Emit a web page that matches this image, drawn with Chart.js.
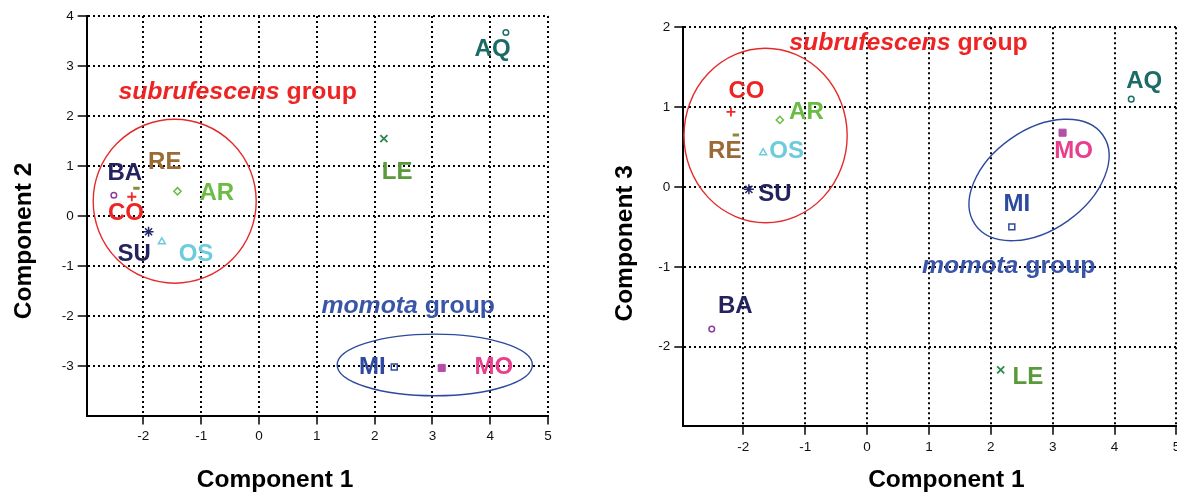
<!DOCTYPE html>
<html><head><meta charset="utf-8">
<script src="https://cdn.jsdelivr.net/npm/chart.js@4.4.1/dist/chart.umd.min.js"></script>
<style>
html,body{margin:0;padding:0;background:#fff;overflow:hidden;width:1177px;height:493px;}
#c1{position:absolute;left:0;top:0;}
#c2{position:absolute;left:600px;top:0;}
</style></head><body>
<canvas id="c1" width="580" height="493"></canvas>
<canvas id="c2" width="600" height="493"></canvas>
<script>
// ---------- data ----------
const codes      = ['BA','RE','CO','AR','SU','OS','LE','AQ','MI','MO'];
const component1 = [-2.51,-2.12,-2.20,-1.41,-1.91,-1.68, 2.16, 4.27, 2.34, 3.16];
const component2 = [ 0.42, 0.56, 0.39, 0.50,-0.31,-0.51, 1.55, 3.67,-3.01,-3.03];
const component3 = [-1.78, 0.65, 0.94, 0.84,-0.03, 0.43,-2.29, 1.10,-0.50, 0.68];
const xTickValues      = [-2,-1,0,1,2,3,4,5];
const yTickValuesLeft  = [-3,-2,-1,0,1,2,3,4];
const yTickValuesRight = [-2,-1,0,1,2];
const groupNames = ['subrufescens','momota'];
const groupWord = ' group';
const xTitle = 'Component 1';
const yTitleLeft = 'Component 2';
const yTitleRight = 'Component 3';

// ---------- styles ----------
const FAMILY = "'Liberation Sans', Arial, sans-serif";
const markerStyle = {
  BA:{shape:'circle',   color:'#8a3d9a', r:2.8, w:1.5},
  RE:{shape:'line',     color:'#8c8a3e', r:3.2, w:3},
  CO:{shape:'cross',    color:'#ee2a2a', r:4.5, w:1.8},
  AR:{shape:'rectRot',  color:'#6cbb44', r:3.6, w:1.5},
  SU:{shape:'star',     color:'#262a6c', r:5,   w:1.5},
  OS:{shape:'triangle', color:'#6ccbdc', r:4,   w:1.5},
  LE:{shape:'crossRot', color:'#2b8a4c', r:5,   w:1.8},
  AQ:{shape:'circle',   color:'#1e6e69', r:2.8, w:1.5},
  MI:{shape:'rect',     color:'#2e4a9e', r:4.2, w:1.5},
  MO:{shape:'rect',     color:'#b44fa6', r:5,   w:1, fill:true}
};
const labelColor = {BA:'#24235f',RE:'#9b6a35',CO:'#ee2424',AR:'#6cbb44',SU:'#24235f',
  OS:'#6ccbdc',LE:'#5b9a3b',AQ:'#1b6b66',MI:'#2e4a9e',MO:'#e83e8c'};
const groupColor = ['#ee2424','#3a55a8'];
const ellipseColor = ['#e42b2b','#2d4a9f'];

// annotation layout (label anchor points in data units, ellipse radii in px)
const layoutLeft = {
  labels:{BA:[-2.32,0.86],RE:[-1.63,1.08],CO:[-2.30,0.06],AR:[-0.73,0.45],SU:[-2.16,-0.76],
          OS:[-1.09,-0.76],LE:[2.39,0.88],AQ:[4.04,3.33],MI:[1.96,-3.01],MO:[4.06,-3.01]},
  groups:[[-0.37,2.47],[2.58,-1.80]],
  ellipses:[{cx:-1.458,cy:0.30,rx:81.5,ry:82,rot:0},{cx:3.04,cy:-2.97,rx:97.6,ry:30.8,rot:0}],
  xTitlePos:[275,480], yTitlePos:[24,241]
};
const layoutRight = {
  labels:{BA:[-2.13,-1.49],RE:[-2.30,0.44],CO:[-1.95,1.20],AR:[-0.98,0.94],SU:[-1.49,-0.09],
          OS:[-1.30,0.44],LE:[2.60,-2.39],AQ:[4.48,1.32],MI:[2.42,-0.22],MO:[3.34,0.44]},
  groups:[[0.67,1.80],[2.29,-0.99]],
  ellipses:[{cx:-1.64,cy:0.645,rx:81.6,ry:87.2,rot:0},{cx:2.78,cy:0.088,rx:78,ry:50,rot:-35.2}],
  xTitlePos:[346.4,480], yTitlePos:[24.8,243.3]
};

function makeDatasets(yValues){
  return codes.map((c,i)=>{
    const s = markerStyle[c];
    return {
      label:c,
      data:[{x:component1[i], y:yValues[i]}],
      pointStyle:s.shape, pointRadius:s.r, pointHoverRadius:s.r,
      borderColor:s.color, pointBorderColor:s.color, pointBorderWidth:s.w,
      backgroundColor:s.fill ? s.color : 'rgba(0,0,0,0)',
      pointBackgroundColor:s.fill ? s.color : 'rgba(0,0,0,0)'
    };
  });
}

function drawParts(ctx, parts, cx, cy, size, color){
  const fonts = parts.map(p => (p.italic?'italic ':'') + 'bold ' + size + 'px ' + FAMILY);
  const widths = parts.map((p,i)=>{ ctx.font = fonts[i]; return ctx.measureText(p.text).width; });
  const total = widths.reduce((a,b)=>a+b,0);
  let xx = cx - total/2;
  ctx.textAlign='left'; ctx.textBaseline='middle'; ctx.fillStyle=color;
  parts.forEach((p,i)=>{ ctx.font=fonts[i]; ctx.fillText(p.text, xx, cy); xx += widths[i]; });
}

function makeOverlay(lay, yTitle){
  return {
    id:'overlay',
    afterDatasetsDraw(chart){
      const ctx = chart.ctx, sx = chart.scales.x, sy = chart.scales.y;
      ctx.save();
      lay.ellipses.forEach((e,i)=>{
        ctx.beginPath();
        ctx.ellipse(sx.getPixelForValue(e.cx), sy.getPixelForValue(e.cy), e.rx, e.ry, e.rot*Math.PI/180, 0, Math.PI*2);
        ctx.strokeStyle = ellipseColor[i]; ctx.lineWidth = 1.4; ctx.stroke();
      });
      ctx.font = 'bold 24px ' + FAMILY;
      ctx.textAlign='center'; ctx.textBaseline='middle';
      codes.forEach(c=>{
        const p = lay.labels[c];
        ctx.fillStyle = labelColor[c];
        ctx.fillText(c, sx.getPixelForValue(p[0]), sy.getPixelForValue(p[1]));
      });
      groupNames.forEach((g,i)=>{
        const p = lay.groups[i];
        drawParts(ctx, [{text:g, italic:true},{text:groupWord}], sx.getPixelForValue(p[0]), sy.getPixelForValue(p[1]), 24.8, groupColor[i]);
      });
      ctx.restore();
    },
    afterDraw(chart){
      const ctx = chart.ctx;
      ctx.save();
      ctx.fillStyle='#000'; ctx.font='bold 24.5px ' + FAMILY;
      ctx.textAlign='center'; ctx.textBaseline='middle';
      ctx.fillText(xTitle, lay.xTitlePos[0], lay.xTitlePos[1]);
      ctx.translate(lay.yTitlePos[0], lay.yTitlePos[1]);
      ctx.rotate(-Math.PI/2);
      ctx.fillText(yTitle, 0, 0);
      ctx.restore();
    }
  };
}

function scaleCfg(min, max, tickValues, size, isX){
  return {
    type:'linear', min:min, max:max,
    afterBuildTicks: a => { a.ticks = tickValues.map(v=>({value:v})); },
    afterFit: a => {
      if (isX) a.height = size; else a.width = size;
      a.paddingLeft = a.paddingRight = a.paddingTop = a.paddingBottom = 0;
    },
    grid:{color:'#000', lineWidth:2, drawTicks:true, tickLength:9, tickColor:'#000', tickWidth:1.5, tickBorderDash:[]},
    border:{display:true, color:'#000', width:2, dash:[2,3]},
    ticks:{color:'#111', font:{family:FAMILY, size:13.5}, padding:4, autoSkip:false, maxRotation:0,
           callback: v => String(v)}
  };
}

function makeChart(id, yValues, lay, yTitle, xr, yr, yTicks, yAxisW, xAxisH, pad){
  return new Chart(document.getElementById(id), {
    type:'scatter',
    data:{datasets:makeDatasets(yValues)},
    options:{
      responsive:false, animation:false, devicePixelRatio:1,
      layout:{padding:pad},
      plugins:{legend:{display:false}, tooltip:{enabled:false}},
      scales:{
        x:scaleCfg(xr[0], xr[1], xTickValues, xAxisH, true),
        y:scaleCfg(yr[0], yr[1], yTicks, yAxisW, false)
      }
    },
    plugins:[makeOverlay(lay, yTitle)]
  });
}

makeChart('c1', component2, layoutLeft, yTitleLeft, [-2.98,5], [-3.98,4], yTickValuesLeft,
  86.7, 77.5, {left:0, top:16, right:31.9, bottom:0});
makeChart('c2', component3, layoutRight, yTitleRight, [-2.97,5], [-2.99,2], yTickValuesRight,
  83.3, 67.3, {left:0, top:27.3, right:23.6, bottom:0});
</script>
</body></html>
